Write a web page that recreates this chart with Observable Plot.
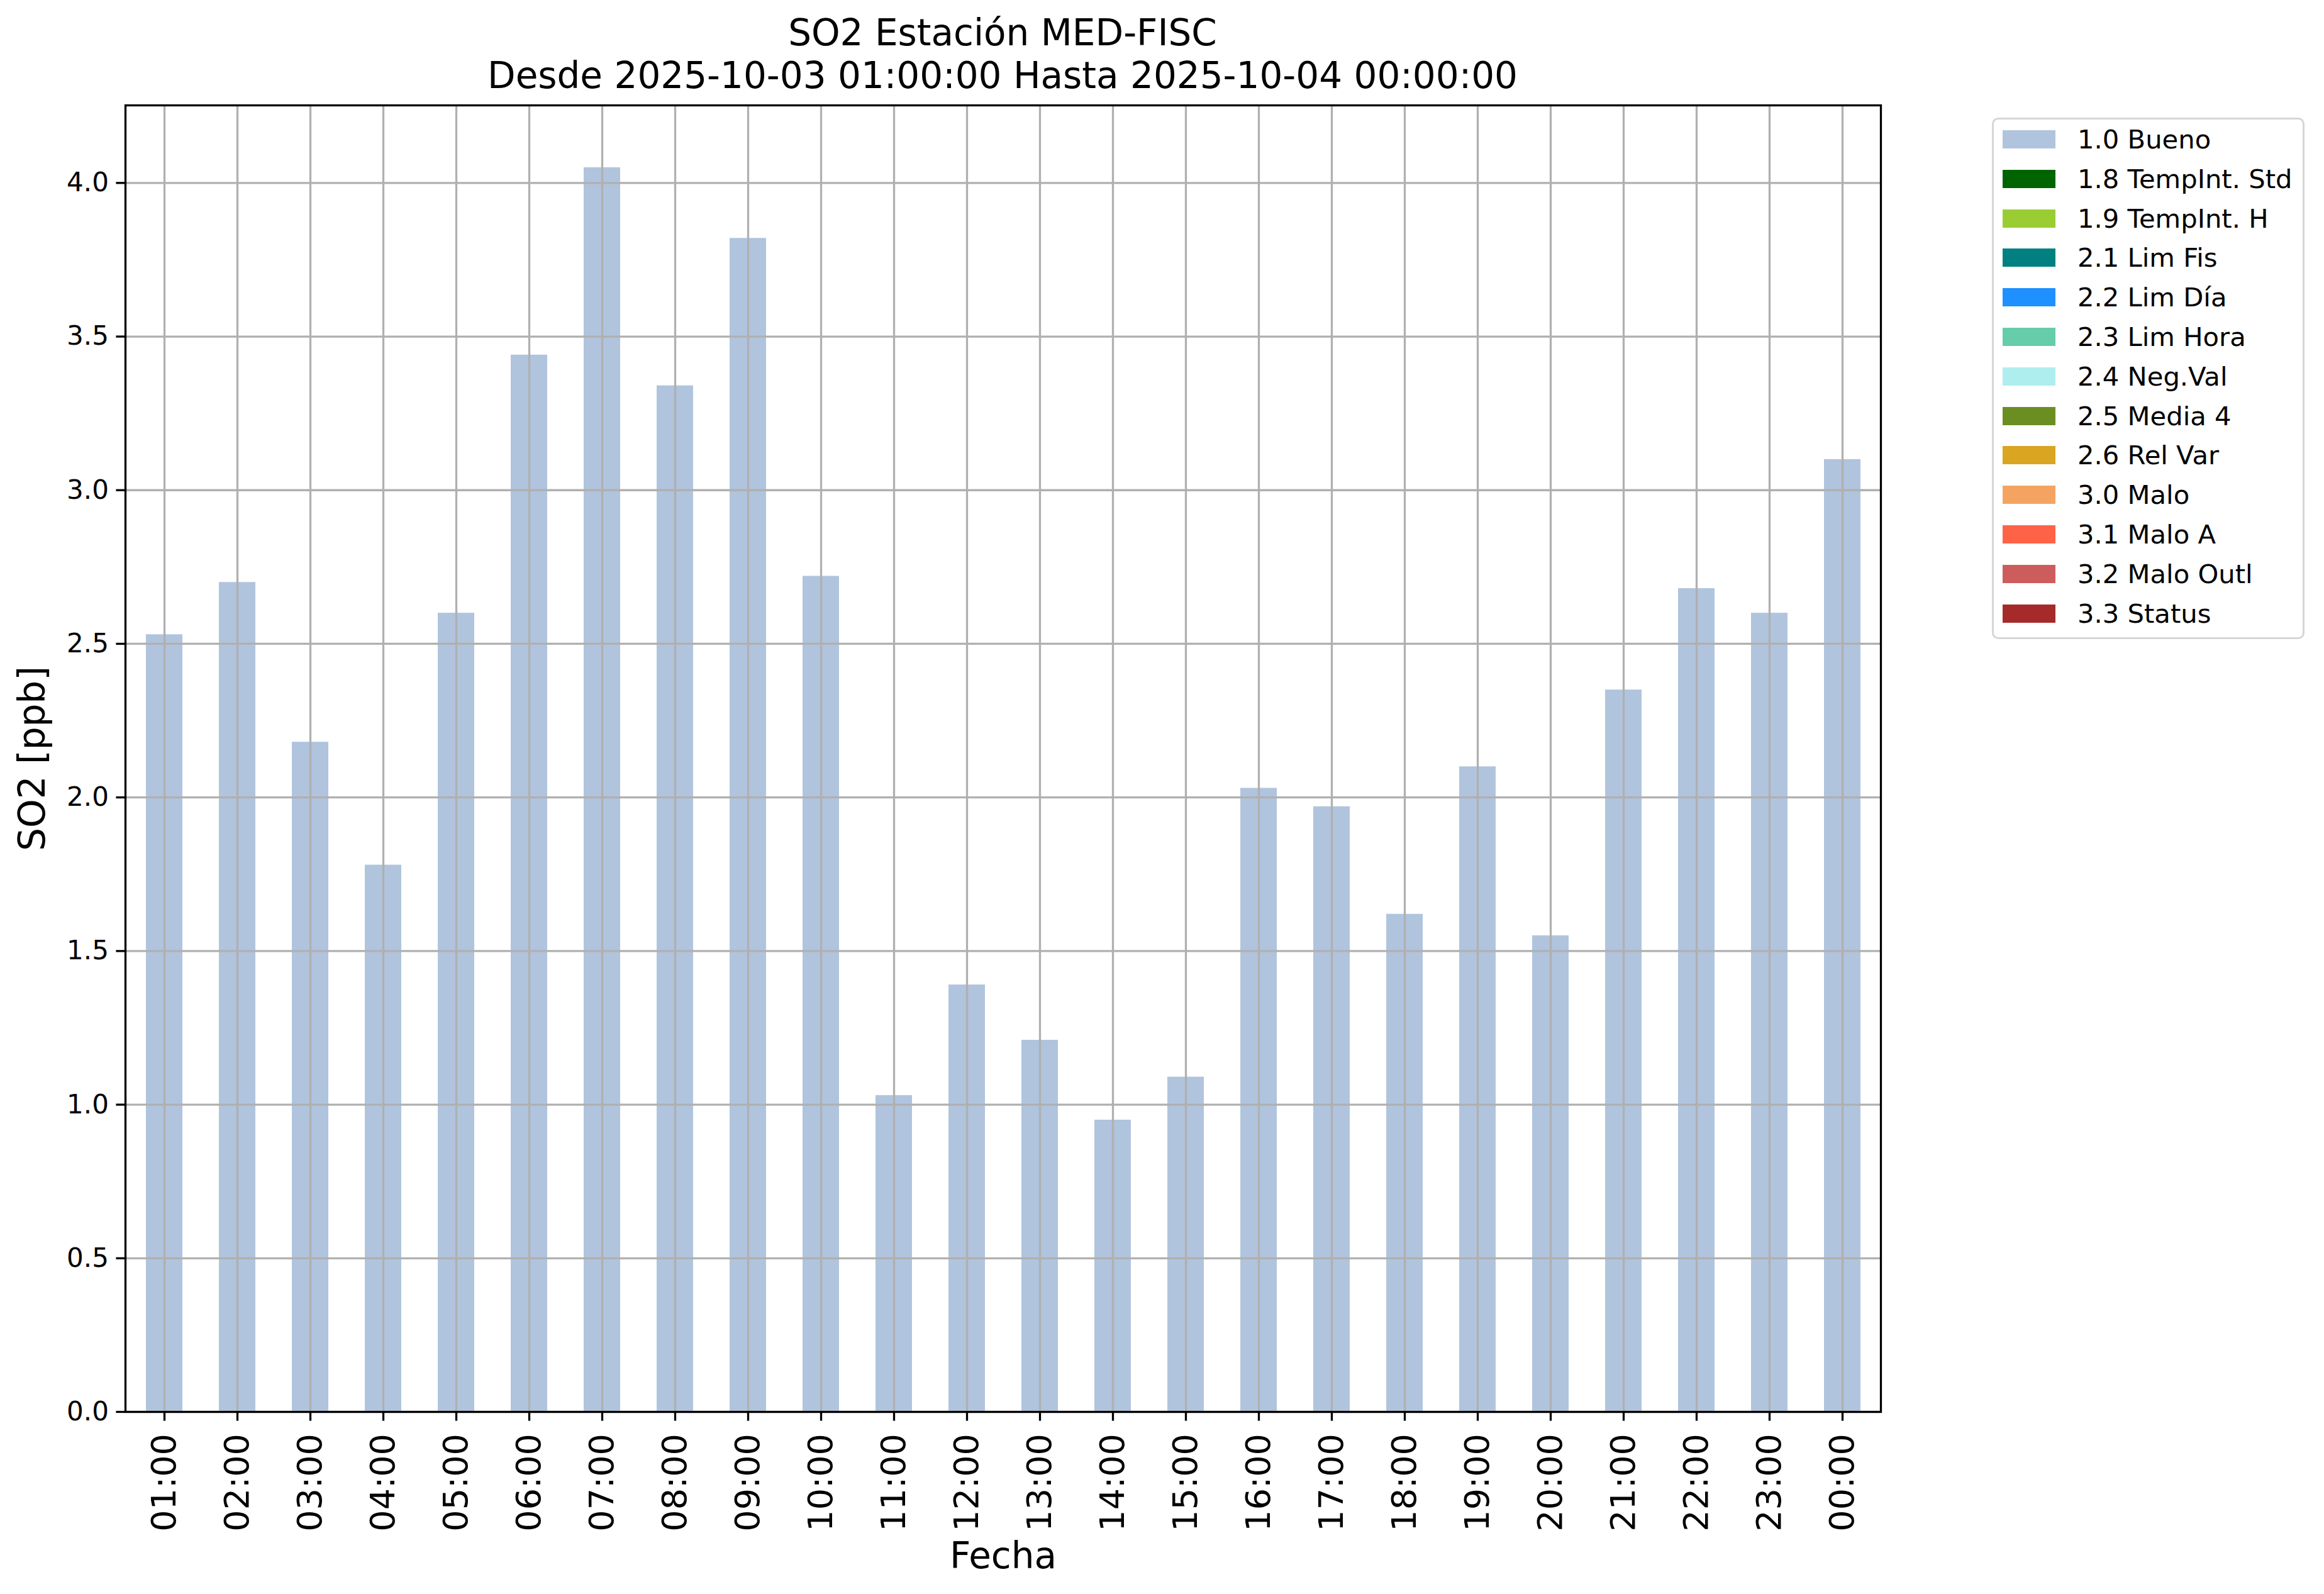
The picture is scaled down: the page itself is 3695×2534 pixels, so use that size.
<!DOCTYPE html>
<html>
<head>
<meta charset="utf-8">
<script src="https://cdn.jsdelivr.net/npm/d3@7"></script>
<script src="https://cdn.jsdelivr.net/npm/@observablehq/plot@0.6"></script>
<style>
  html, body { margin: 0; padding: 0; background: #fff; }
  body { width: 3695px; height: 2534px; position: relative; overflow: hidden; font-family: "DejaVu Sans", sans-serif; }
  #title { position: absolute; left: 0; top: 18px; width: 3188px; text-align: center; font-size: 58px; line-height: 68px; color: #000; }
  #chart { position: absolute; left: 0; top: 150px; }
  #legend { position: absolute; left: 3167px; top: 187px; width: 491px; height: 823px; border: 3px solid #d6d6d6; border-radius: 10px; box-sizing: content-box; background: #fff; }
  .row { position: absolute; left: 0; height: 29px; width: 100%; }
  .sw { position: absolute; left: 14px; top: 0; width: 84px; height: 29px; }
  .lab { position: absolute; left: 133px; top: -10px; font-size: 41.7px; line-height: 50px; white-space: nowrap; color: #000; }
</style>
</head>
<body>
<div id="title">SO2 Estación MED-FISC<br>Desde 2025-10-03 01:00:00 Hasta 2025-10-04 00:00:00</div>
<div id="chart"></div>
<div id="legend"></div>
<script>
const hours = ["01:00","02:00","03:00","04:00","05:00","06:00","07:00","08:00","09:00","10:00","11:00","12:00",
               "13:00","14:00","15:00","16:00","17:00","18:00","19:00","20:00","21:00","22:00","23:00","00:00"];
const so2 = [2.53, 2.70, 2.18, 1.78, 2.60, 3.44, 4.05, 3.34, 3.82, 2.72, 1.03, 1.39,
             1.21, 0.95, 1.09, 2.03, 1.97, 1.62, 2.10, 1.55, 2.35, 2.68, 2.60, 3.10];
const yTicks = [0, 0.5, 1.0, 1.5, 2.0, 2.5, 3.0, 3.5, 4.0];
const legendLabels = ["1.0 Bueno","1.8 TempInt. Std","1.9 TempInt. H","2.1 Lim Fis","2.2 Lim Día","2.3 Lim Hora",
                      "2.4 Neg.Val","2.5 Media 4","2.6 Rel Var","3.0 Malo","3.1 Malo A","3.2 Malo Outl","3.3 Status"];
const legendColors = ["#b0c4de","#006400","#9acd32","#008080","#1e90ff","#66cdaa",
                      "#afeeee","#6b8e23","#daa520","#f4a460","#ff6347","#cd5c5c","#a52a2a"];

const data = hours.map((h, i) => ({hour: h, value: so2[i]}));
const yMax = d3.max(so2) * 1.05;

const chart = Plot.plot({
  width: 3100,
  height: 2384,
  marginLeft: 199,
  marginRight: 110,
  marginTop: 17,
  marginBottom: 290,
  style: {fontFamily: "DejaVu Sans, sans-serif", color: "#000", background: "transparent"},
  x: {type: "band", domain: hours, paddingInner: 0.5, paddingOuter: 0.25, label: null},
  y: {domain: [0, yMax], label: null},
  marks: [
    Plot.barY(data, {x: "hour", y: "value", fill: "#b0c4de"}),
    Plot.ruleY(yTicks, {stroke: "#b0b0b0", strokeWidth: 3.3}),
    Plot.ruleX(hours, {x: d => d, stroke: "#b0b0b0", strokeWidth: 3.3}),
    Plot.frame({stroke: "#000", strokeWidth: 3.3}),
    Plot.axisY(yTicks, {tickFormat: d => d.toFixed(1), tickSize: 14.6, tickPadding: 12, fontSize: 42, strokeWidth: 3.3, label: null}),
    Plot.axisX({tickRotate: -90, tickSize: 14.6, tickPadding: 20, fontSize: 54, strokeWidth: 3.3, label: null}),
    Plot.text([yMax / 2], {y: d => d, text: () => "SO2 [ppb]", frameAnchor: "left", textAnchor: "middle", dx: -147, rotate: -90, fontSize: 58}),
    Plot.text(["Fecha"], {text: d => d, frameAnchor: "bottom", dy: 248, fontSize: 58})
  ]
});
document.getElementById("chart").appendChild(chart);

const leg = document.getElementById("legend");
legendLabels.forEach((lab, i) => {
  const row = document.createElement("div");
  row.className = "row";
  row.style.top = (17 + i * 62.8) + "px";
  const sw = document.createElement("div");
  sw.className = "sw";
  sw.style.background = legendColors[i];
  const t = document.createElement("div");
  t.className = "lab";
  t.textContent = lab;
  row.appendChild(sw);
  row.appendChild(t);
  leg.appendChild(row);
});
</script>
</body>
</html>
